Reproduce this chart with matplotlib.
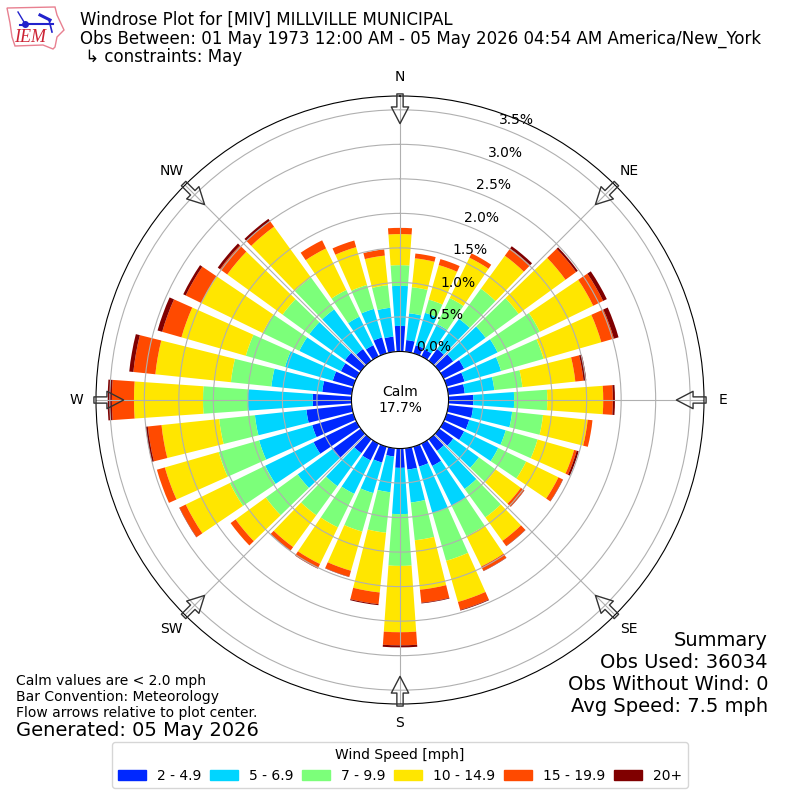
import matplotlib
matplotlib.use("Agg")
import matplotlib.pyplot as plt
from matplotlib.patches import Patch, Polygon
import numpy as np

directions = np.arange(0, 360, 10)

# percent of obs per direction, one list per speed bin
speed_2_5 = [.37, .17, .12, .11, .21, .25, .33, .27, .24, .36, .36, .34,
             .33, .25, .21, .36, .30, .31, .28, .12, .24, .27, .25, .51,
             .69, .62, .66, .56, .43, .31, .25, .28, .21, .18, .24, .22]
speed_5_7 = [.58, .39, .49, .41, .54, .58, .54, .55, .43, .59, .57, .55,
             .55, .46, .68, .64, .70, .48, .67, .52, .46, .54, .59, .62,
             .78, .80, .75, .94, .74, .72, .67, .64, .71, .46, .43, .42]
speed_7_10 = [.30, .38, .20, .42, .54, .59, .68, .64, .41, .48, .45, .48,
              .45, .30, .51, .49, .72, .55, .75, .59, .58, .54, .52, .57,
              .57, .61, .52, .65, .59, .59, .59, .48, .57, .43, .36, .33]
speed_10_15 = [.45, .42, .52, .65, .59, .84, .86, .87, .77, .81, .65, .55,
               .52, .45, .42, .49, .62, .72, .96, .87, .59, .59, .57, .54,
               .71, .81, .84, 1.00, 1.10, .97, .99, .99, .91, .67, .57, .43]
speed_15_20 = [.09, .07, .09, .07, .13, .19, .16, .19, .12, .14, .07, .04,
               .07, .06, .09, .07, .12, .19, .19, .17, .09, .07, .06, .09,
               .10, .12, .20, .32, .32, .29, .25, .13, .10, .13, .10, .09]
speed_20 = [0, 0, 0, 0, .04, .03, .06, .07, .04, .03, 0, .03,
            .005, .005, .005, .005, .01, .01, .03, .015, .005, .005, .005, 0,
            .005, 0, .03, .06, .06, .07, .04, .04, .04, 0, 0, 0]

bins = [speed_2_5, speed_5_7, speed_7_10, speed_10_15, speed_15_20, speed_20]
bin_labels = ["2 - 4.9", "5 - 6.9", "7 - 9.9", "10 - 14.9", "15 - 19.9", "20+"]
bin_colors = ["#0028ff", "#00d5ff", "#7cff7a", "#ffe600", "#ff4a00", "#800000"]

rticks = [0.0, 0.5, 1.0, 1.5, 2.0, 2.5, 3.0, 3.5]
compass = ["N", "NE", "E", "SE", "S", "SW", "W", "NW"]
compass_deg = [0, 45, 90, 135, 180, 225, 270, 315]

fig = plt.figure(figsize=(8, 8), dpi=100)
ax = fig.add_axes([96 / 800, 96 / 800, 608 / 800, 608 / 800], polar=True)
ax.set_theta_zero_location("N")
ax.set_theta_direction(-1)

theta = np.radians(directions)
base = np.zeros(len(directions))
for vals, color in zip(bins, bin_colors):
    ax.bar(theta, vals, width=np.radians(8), bottom=base, color=color, linewidth=0)
    base = base + np.array(vals)

ax.set_rorigin(-0.703)
ax.set_ylim(0, 3.70)
ax.set_yticks(rticks)
ax.set_yticklabels(["%.1f%%" % r for r in rticks])
ax.set_rlabel_position(20)
ax.set_xticks(np.radians(compass_deg))
ax.set_xticklabels(compass)
ax.tick_params(axis="x", pad=3.5)
ax.grid(True)

# flow arrows pointing at the center, hollow so the bars show through
for deg in compass_deg:
    ax.annotate("", xy=(np.radians(deg), 3.30), xytext=(np.radians(deg), 3.73),
                annotation_clip=False,
                arrowprops=dict(facecolor="none", edgecolor="#333333", linewidth=1,
                                width=4.5, headwidth=12.5, headlength=12, shrink=0))

ax.text(0.5, 0.5, "Calm\n17.7%", transform=ax.transAxes, ha="center", va="center", fontsize=10)

fig.text(80 / 800, 1 - 11 / 800,
         "Windrose Plot for [MIV] MILLVILLE MUNICIPAL\n"
         "Obs Between: 01 May 1973 12:00 AM - 05 May 2026 04:54 AM America/New_York\n"
         " \u21b3 constraints: May",
         fontsize=12, va="top", ha="left", linespacing=1.03)

fig.text(16 / 800, 1 - 719.5 / 800,
         "Calm values are < 2.0 mph\nBar Convention: Meteorology\nFlow arrows relative to plot center.",
         fontsize=10, va="bottom", ha="left", linespacing=1.18)
fig.text(16 / 800, 1 - 740 / 800, "Generated: 05 May 2026", fontsize=14, va="bottom", ha="left")
fig.text(768 / 800, 1 - 716 / 800,
         "Summary\nObs Used: 36034\nObs Without Wind: 0\nAvg Speed: 7.5 mph",
         fontsize=14, va="bottom", ha="right", multialignment="right")

handles = [Patch(color=c, label=l) for c, l in zip(bin_colors, bin_labels)]
fig.legend(handles=handles, title="Wind Speed [mph]", ncol=6, fontsize=10, title_fontsize=10,
           loc="lower center", bbox_to_anchor=(0.5, 0.00625), columnspacing=0.63)

# IEM logo, rough
logo = fig.add_axes([0, 1 - 60 / 800, 70 / 800, 60 / 800])
logo.set_xlim(0, 70)
logo.set_ylim(60, 0)
logo.axis("off")
logo.add_patch(Polygon([(7, 8), (55, 7), (57, 15), (64, 30), (57, 37), (55, 47), (53, 49),
                        (43, 45), (15, 46), (12, 37), (10, 23)],
                       closed=True, fill=False, edgecolor="#e88090", linewidth=1))
logo.plot([25, 53], [24, 24], color="#2222cc", lw=1.5)
logo.plot([25], [24], "o", color="#2222cc", ms=4)
logo.plot([20, 24], [25, 25], color="#2222cc", lw=1.5)
logo.plot([18, 24], [12, 22], color="#2222cc", lw=1)
logo.plot([40, 50], [15, 20], color="#2222cc", lw=2.2)
logo.plot([49, 52], [20, 32], color="#2222cc", lw=1.2)
logo.text(30.5, 38, "IEM", color="#cc2233", fontsize=13, family="Liberation Serif",
          style="italic", ha="center", va="center")

fig.savefig("out.png", dpi=100)
